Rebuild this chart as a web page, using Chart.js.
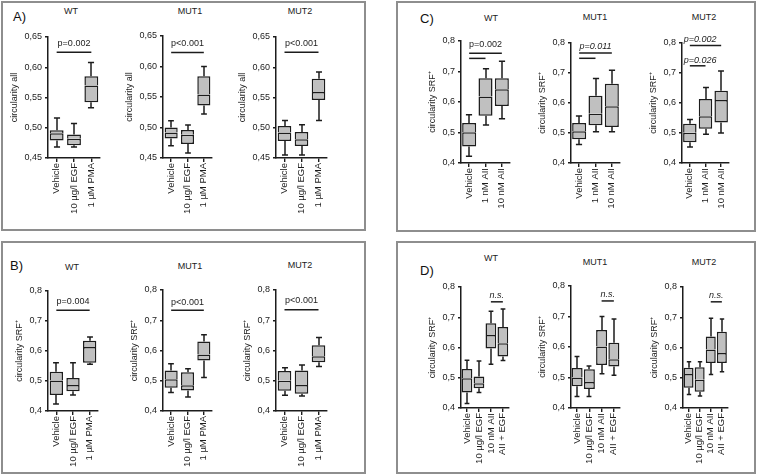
<!DOCTYPE html>
<html>
<head>
<meta charset="utf-8">
<script src="https://cdn.jsdelivr.net/npm/chart.js@4"></script>
<style>
  body { margin: 0; background: #fff; width: 759px; height: 474px; position: relative; overflow: hidden; font-family: 'Liberation Sans', Arial, sans-serif; }
  .panel { position: absolute; border: 2px solid #8e8e8e; box-sizing: border-box; }
  .letter { position: absolute; font-size: 13px; line-height: 1; color: #111; }
  .ttl { position: absolute; font-size: 9px; line-height: 1; color: #222; transform: translate(-50%, -50%); white-space: nowrap; }
  canvas { position: absolute; }
</style>
</head>
<body>
<script>
// categories
const catsPMA = ['Vehicle', '10 µg/l EGF', '1 µM PMA'];
const catsAII = ['Vehicle', '1 nM AII', '10 nM AII'];
const catsMix = ['Vehicle', '10 µg/l EGF', '10 nM AII', 'AII + EGF'];
const genotypes = ['WT', 'MUT1', 'MUT2'];

// y ticks
const ticksAll = [0.45, 0.50, 0.55, 0.60, 0.65];
const ticksSRF = [0.4, 0.5, 0.6, 0.7, 0.8];

// boxes: [min, q1, median, q3, max] per category
const A_WT   = [[0.468, 0.479, 0.491, 0.496, 0.516], [0.468, 0.471, 0.482, 0.489, 0.507], [0.533, 0.542, 0.570, 0.585, 0.608]];
const A_MUT1 = [[0.470, 0.482, 0.492, 0.500, 0.511], [0.458, 0.473, 0.488, 0.496, 0.504], [0.522, 0.536, 0.554, 0.584, 0.600]];
const A_MUT2 = [[0.455, 0.478, 0.492, 0.503, 0.512], [0.455, 0.470, 0.481, 0.493, 0.505], [0.512, 0.546, 0.559, 0.581, 0.592]];

const B_WT   = [[0.423, 0.453, 0.502, 0.531, 0.561], [0.453, 0.466, 0.487, 0.510, 0.561], [0.556, 0.561, 0.613, 0.634, 0.647]];
const B_MUT1 = [[0.461, 0.477, 0.505, 0.534, 0.556], [0.446, 0.468, 0.485, 0.528, 0.540], [0.511, 0.567, 0.587, 0.630, 0.652]];
const B_MUT2 = [[0.452, 0.467, 0.500, 0.532, 0.543], [0.450, 0.457, 0.486, 0.534, 0.552], [0.547, 0.561, 0.581, 0.617, 0.643]];

const C_WT   = [[0.422, 0.454, 0.501, 0.531, 0.558], [0.525, 0.555, 0.618, 0.678, 0.709], [0.545, 0.587, 0.642, 0.678, 0.734]];
const C_MUT1 = [[0.462, 0.479, 0.506, 0.533, 0.557], [0.504, 0.526, 0.564, 0.624, 0.682], [0.504, 0.520, 0.589, 0.664, 0.709]];
const C_MUT2 = [[0.453, 0.469, 0.501, 0.531, 0.545], [0.496, 0.514, 0.556, 0.613, 0.652], [0.500, 0.535, 0.610, 0.641, 0.707]];

const D_WT   = [[0.415, 0.451, 0.498, 0.529, 0.558], [0.451, 0.465, 0.482, 0.504, 0.555], [0.545, 0.597, 0.641, 0.680, 0.720], [0.557, 0.570, 0.614, 0.668, 0.727]];
const D_MUT1 = [[0.438, 0.471, 0.500, 0.531, 0.569], [0.438, 0.462, 0.485, 0.527, 0.538], [0.512, 0.541, 0.602, 0.656, 0.700], [0.507, 0.536, 0.560, 0.614, 0.692]];
const D_MUT2 = [[0.445, 0.467, 0.512, 0.533, 0.553], [0.440, 0.454, 0.493, 0.535, 0.553], [0.511, 0.549, 0.593, 0.636, 0.697], [0.520, 0.549, 0.582, 0.652, 0.694]];

// significance bars: category range, bar level, label level
const A_WT_p   = [{ text: 'p=0.002', from: 0, to: 2, y: 0.625, ty: 0.639 }];
const A_MUT1_p = [{ text: 'p<0.001', from: 0, to: 2, y: 0.623, ty: 0.637 }];
const A_MUT2_p = [{ text: 'p<0.001', from: 0, to: 2, y: 0.625, ty: 0.639 }];
const B_WT_p   = [{ text: 'p=0.004', from: 0, to: 2, y: 0.736, ty: 0.765 }];
const B_MUT1_p = [{ text: 'p<0.001', from: 0, to: 2, y: 0.733, ty: 0.760 }];
const B_MUT2_p = [{ text: 'p<0.001', from: 0, to: 2, y: 0.735, ty: 0.764 }];
const C_WT_p   = [{ text: 'p=0.002', from: 0, to: 2, y: 0.760, ty: 0.787 }, { from: 0, to: 1, y: 0.743 }];
const C_MUT1_p = [{ text: 'p=0.011', italic: true, from: 0, to: 2, y: 0.767, ty: 0.787 }, { from: 0, to: 1, y: 0.749 }];
const C_MUT2_p = [{ text: 'p=0.002', italic: true, from: 0, to: 2, y: 0.792, ty: 0.811, tx: 0.65 }, { text: 'p=0.026', italic: true, from: 0, to: 1, y: 0.724, ty: 0.743, tx: 0.65 }];
const D_p      = [{ text: 'n.s.', italic: true, from: 2, to: 3, y: 0.751, ty: 0.772 }];

const FONT = "'Liberation Sans', Arial, sans-serif";
const INK = '#1c1c1c';

// frames and labels
const panels = [
  { letter: 'A)', l: 1, t: 1, w: 365, h: 230, lx: 13, ly: 10, titles: [[71, 11], [190, 11], [300, 11]] },
  { letter: 'C)', l: 396, t: 1, w: 360, h: 231, lx: 420, ly: 12, titles: [[491, 18], [595, 17], [704, 17]] },
  { letter: 'B)', l: 1, t: 241, w: 365, h: 233, lx: 10, ly: 259, titles: [[72, 267], [190, 266], [300, 265]] },
  { letter: 'D)', l: 396, t: 241, w: 360, h: 233, lx: 420, ly: 264, titles: [[491, 258], [595, 262], [704, 262]] }
];

panels.forEach(p => {
  const f = document.createElement('div');
  f.className = 'panel';
  f.style.cssText = `left:${p.l}px;top:${p.t}px;width:${p.w}px;height:${p.h}px`;
  document.body.appendChild(f);
  const l = document.createElement('div');
  l.className = 'letter';
  l.textContent = p.letter;
  l.style.cssText = `left:${p.lx}px;top:${p.ly}px`;
  document.body.appendChild(l);
  p.titles.forEach((t, i) => {
    const d = document.createElement('div');
    d.className = 'ttl';
    d.textContent = genotypes[i];
    d.style.cssText = `left:${t[0]}px;top:${t[1]}px`;
    document.body.appendChild(d);
  });
});

// one entry per small chart: axis x, right end, top tick y, bottom tick y
const charts = [
  { boxes: A_WT,   notes: A_WT_p,   cats: catsPMA, ticks: ticksAll, dec: 2, title: 'circularity all', ax: 48,  ar: 100, yt: 37,  yb: 158, W: 38, bp: 0.8 },
  { boxes: A_MUT1, notes: A_MUT1_p, cats: catsPMA, ticks: ticksAll, dec: 2, title: 'circularity all', ax: 163, ar: 212, yt: 36,  yb: 158, W: 38, bp: 0.8 },
  { boxes: A_MUT2, notes: A_MUT2_p, cats: catsPMA, ticks: ticksAll, dec: 2, title: 'circularity all', ax: 276, ar: 327, yt: 37,  yb: 158, W: 38, bp: 0.8 },
  { boxes: B_WT,   notes: B_WT_p,   cats: catsPMA, ticks: ticksSRF, dec: 1, title: 'circularity SRF⁺', ax: 48,  ar: 98,  yt: 291, yb: 411, W: 33, bp: 0.8 },
  { boxes: B_MUT1, notes: B_MUT1_p, cats: catsPMA, ticks: ticksSRF, dec: 1, title: 'circularity SRF⁺', ax: 163, ar: 212, yt: 290, yb: 411, W: 33, bp: 0.8 },
  { boxes: B_MUT2, notes: B_MUT2_p, cats: catsPMA, ticks: ticksSRF, dec: 1, title: 'circularity SRF⁺', ax: 276, ar: 327, yt: 290, yb: 411, W: 33, bp: 0.8 },
  { boxes: C_WT,   notes: C_WT_p,   cats: catsAII, ticks: ticksSRF, dec: 1, title: 'circularity SRF⁺', ax: 461, ar: 510, yt: 41,  yb: 163, W: 33, bp: 0.86 },
  { boxes: C_MUT1, notes: C_MUT1_p, cats: catsAII, ticks: ticksSRF, dec: 1, title: 'circularity SRF⁺', ax: 571, ar: 620, yt: 43,  yb: 163, W: 33, bp: 0.86 },
  { boxes: C_MUT2, notes: C_MUT2_p, cats: catsAII, ticks: ticksSRF, dec: 1, title: 'circularity SRF⁺', ax: 682, ar: 729, yt: 43,  yb: 163, W: 33, bp: 0.86 },
  { boxes: D_WT,   notes: D_p,      cats: catsMix, ticks: ticksSRF, dec: 1, title: 'circularity SRF⁺', ax: 461, ar: 510, yt: 287, yb: 408, W: 33, bp: 0.9 },
  { boxes: D_MUT1, notes: D_p,      cats: catsMix, ticks: ticksSRF, dec: 1, title: 'circularity SRF⁺', ax: 571, ar: 621, yt: 286, yb: 408, W: 33, bp: 0.9 },
  { boxes: D_MUT2, notes: D_p,      cats: catsMix, ticks: ticksSRF, dec: 1, title: 'circularity SRF⁺', ax: 683, ar: 729, yt: 287, yb: 408, W: 33, bp: 0.9 }
];

function boxExtras(spec) {
  return {
    id: 'boxExtras',
    beforeDatasetsDraw(chart) {
      const { ctx, scales: { y } } = chart;
      const meta = chart.getDatasetMeta(0);
      ctx.save();
      ctx.strokeStyle = INK;
      ctx.lineWidth = 1.5;
      spec.boxes.forEach((b, i) => {
        const bar = meta.data[i];
        const cx = Math.round(bar.x);
        const half = bar.width * 0.22;
        const yl = y.getPixelForValue(b[0]);
        const yh = y.getPixelForValue(b[4]);
        ctx.beginPath();
        ctx.moveTo(cx, yl); ctx.lineTo(cx, y.getPixelForValue(b[1]));
        ctx.moveTo(cx, yh); ctx.lineTo(cx, y.getPixelForValue(b[3]));
        ctx.moveTo(cx - half, yl); ctx.lineTo(cx + half, yl);
        ctx.moveTo(cx - half, yh); ctx.lineTo(cx + half, yh);
        ctx.stroke();
      });
      ctx.restore();
    },
    afterDraw(chart) {
      const { ctx, scales: { x, y } } = chart;
      ctx.save();
      spec.notes.forEach(n => {
        const ly = y.getPixelForValue(n.y);
        ctx.strokeStyle = INK;
        ctx.lineWidth = 1.5;
        ctx.beginPath();
        ctx.moveTo(x.getPixelForValue(n.from), ly);
        ctx.lineTo(x.getPixelForValue(n.to), ly);
        ctx.stroke();
        if (n.text) {
          ctx.font = (n.italic ? 'italic ' : '') + '9px ' + FONT;
          ctx.fillStyle = INK;
          ctx.textAlign = 'center';
          ctx.textBaseline = 'middle';
          const tx = n.tx !== undefined ? n.tx : (n.from + n.to) / 2;
          ctx.fillText(n.text, x.getPixelForValue(tx), y.getPixelForValue(n.ty));
        }
      });
      ctx.restore();
    }
  };
}

charts.forEach(spec => {
  const padTop = 30, padBottom = 70;
  const cv = document.createElement('canvas');
  const w = spec.W + (spec.ar - spec.ax) + 6;
  const h = padTop + (spec.yb - spec.yt) + padBottom;
  cv.width = w;
  cv.height = h;
  cv.style.cssText = `left:${spec.ax - spec.W}px;top:${spec.yt - padTop}px;width:${w}px;height:${h}px`;
  document.body.appendChild(cv);

  const barStyle = {
    grouped: false,
    backgroundColor: '#c0c0c0',
    borderColor: INK,
    borderSkipped: false,
    barPercentage: spec.bp,
    categoryPercentage: 1
  };

  new Chart(cv.getContext('2d'), {
    type: 'bar',
    data: {
      labels: spec.cats,
      datasets: [
        Object.assign({ data: spec.boxes.map(b => [b[1], b[2]]), borderWidth: 1.5 }, barStyle),
        Object.assign({ data: spec.boxes.map(b => [b[2], b[3]]), borderWidth: { top: 1.5, left: 1.5, right: 1.5, bottom: 0 } }, barStyle)
      ]
    },
    options: {
      responsive: false,
      animation: false,
      layout: { padding: { top: padTop, right: 6, left: 0, bottom: 0 } },
      plugins: { legend: { display: false }, tooltip: { enabled: false } },
      scales: {
        x: {
          afterFit: s => { s.height = padBottom; },
          grid: { display: true, drawOnChartArea: false, offset: false, tickLength: 4, color: INK, lineWidth: 1.4 },
          border: { display: true, color: INK, width: 1.5 },
          ticks: { autoSkip: false, minRotation: 90, maxRotation: 90, padding: 1, color: INK, font: { family: FONT, size: 9.5 } }
        },
        y: {
          min: spec.ticks[0],
          max: spec.ticks[spec.ticks.length - 1],
          afterFit: s => { s.width = spec.W; },
          grid: { display: true, drawOnChartArea: false, tickLength: 3, color: INK, lineWidth: 1.4 },
          border: { display: true, color: INK, width: 1.5 },
          ticks: {
            stepSize: spec.ticks[1] - spec.ticks[0],
            padding: 3,
            color: INK,
            font: { family: FONT, size: 9 },
            callback: v => v.toFixed(spec.dec).replace('.', ',')
          },
          title: { display: true, text: spec.title, color: INK, padding: 0, font: { family: FONT, size: 9, lineHeight: 1 } }
        }
      }
    },
    plugins: [boxExtras(spec)]
  });
});
</script>
</body>
</html>
